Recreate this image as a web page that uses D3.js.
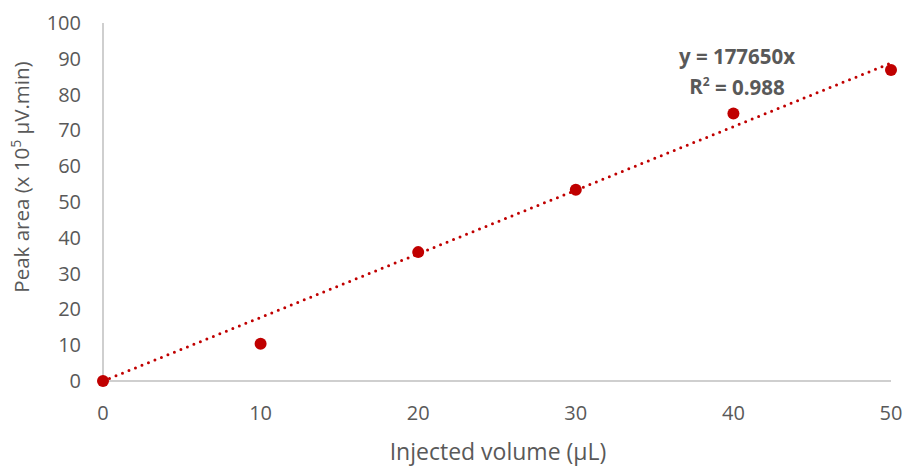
<!DOCTYPE html>
<html><head><meta charset="utf-8">
<script src="https://cdn.jsdelivr.net/npm/d3@7"></script>
<style>body{margin:0;background:#fff}svg{display:block}text{font-family:"Open Sans","Liberation Sans",sans-serif}</style>
</head><body><svg id="c" width="905" height="466"></svg>
<script>
const volumes = [0, 10, 20, 30, 40, 50];
const peakAreas = [0, 10.4, 36.0, 53.4, 74.7, 86.9];
const slope = 1.7765; // 177650 per µL in units of 1e5
const xTicks = [0, 10, 20, 30, 40, 50];
const yTicks = [0, 10, 20, 30, 40, 50, 60, 70, 80, 90, 100];

const svg = d3.select("#c");
const x = d3.scaleLinear().domain([0, 50]).range([103, 891]);
const y = d3.scaleLinear().domain([0, 100]).range([381, 23]);
const grey = "#595959", axisCol = "#bfbfbf", red = "#c00000";

svg.append("line").attr("x1", x(0)).attr("x2", x(0)).attr("y1", y(100)).attr("y2", y(0))
  .attr("stroke", axisCol).attr("stroke-width", 1.5);
svg.append("line").attr("x1", x(0)).attr("x2", x(50)).attr("y1", y(0)).attr("y2", y(0))
  .attr("stroke", axisCol).attr("stroke-width", 1.5);

svg.selectAll(".yt").data(yTicks).enter().append("text")
  .attr("x", 81).attr("y", d => y(d)).attr("dy", "0.35em").attr("text-anchor", "end")
  .attr("fill", grey).attr("font-size", 20).text(d => d);
svg.selectAll(".xt").data(xTicks).enter().append("text")
  .attr("x", d => x(d)).attr("y", 413).attr("dy", "0.35em").attr("text-anchor", "middle")
  .attr("fill", grey).attr("font-size", 20).text(d => d);

svg.append("text").attr("x", 498).attr("y", 452).attr("dy", "0.35em").attr("text-anchor", "middle")
  .attr("fill", grey).attr("font-size", 23).text("Injected volume (µL)");

const yl = svg.append("text").attr("transform", "translate(22,177) rotate(-90)")
  .attr("dy", "0.35em").attr("text-anchor", "middle").attr("fill", grey).attr("font-size", 20.5);
yl.append("tspan").text("Peak area (x 10");
yl.append("tspan").attr("font-size", 14).attr("dy", "-0.6em").text("5");
yl.append("tspan").attr("dy", "0.42em").text(" µV.min)");

svg.append("line").attr("x1", x(0)).attr("y1", y(0)).attr("x2", x(50)).attr("y2", y(slope * 50))
  .attr("stroke", red).attr("stroke-width", 3).attr("stroke-linecap", "round")
  .attr("stroke-dasharray", "0 7");

svg.selectAll("circle").data(volumes).enter().append("circle")
  .attr("cx", d => x(d)).attr("cy", (d, i) => y(peakAreas[i])).attr("r", 6).attr("fill", red);

svg.append("text").attr("x", 737).attr("y", 57).attr("dy", "0.35em").attr("text-anchor", "middle")
  .attr("fill", grey).attr("font-size", 20.5).attr("font-weight", "bold").text("y = 177650x");
const r2 = svg.append("text").attr("x", 737).attr("y", 87).attr("dy", "0.35em").attr("text-anchor", "middle")
  .attr("fill", grey).attr("font-size", 20.5).attr("font-weight", "bold");
r2.append("tspan").text("R");
r2.append("tspan").attr("font-size", 12).attr("dy", "-0.7em").text("2");
r2.append("tspan").attr("dy", "0.45em").text(" = 0.988");
</script></body></html>
